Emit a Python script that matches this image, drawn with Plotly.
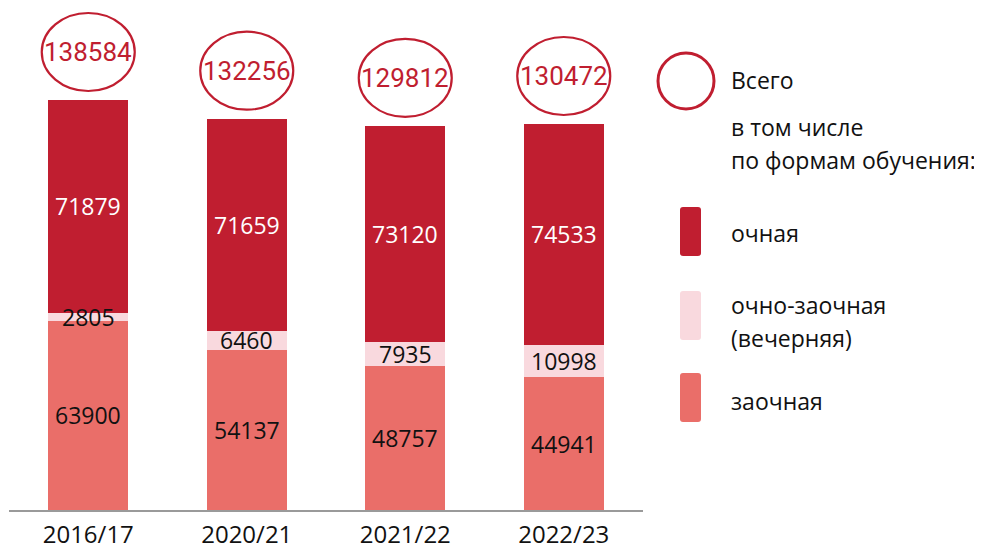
import plotly.graph_objects as go

categories = ["2016/17", "2020/21", "2021/22", "2022/23"]
ochnaya = [71879, 71659, 73120, 74533]
ochno_zaochnaya = [2805, 6460, 7935, 10998]
zaochnaya = [63900, 54137, 48757, 44941]
totals = [138584, 132256, 129812, 130472]

legend_labels = ["очная", "очно-заочная", "(вечерняя)", "заочная"]

C_DARK = "#C01E30"
C_PINK = "#F9D9DE"
C_SALMON = "#EA6E69"

# the page body has an 8px default margin: work in reference pixels, shift by OFF
OFF = 8
W, H = 982 - OFF, 549 - OFF
PLOT_X0, PLOT_X1 = 9 - OFF, 643 - OFF
PLOT_Y0, PLOT_Y1 = 10 - OFF, 510 - OFF
L, R, T, B = PLOT_X0, W - PLOT_X1, PLOT_Y0, H - PLOT_Y1
PW, PH = PLOT_X1 - PLOT_X0, PLOT_Y1 - PLOT_Y0
YMAX = 169000
px_per_unit = PH / YMAX

BODY_FONT = "Open Sans, Noto Sans, DejaVu Sans, sans-serif"
NUM_FONT = "Liberation Sans Narrow, Roboto, Liberation Sans, sans-serif"

fig = go.Figure()
series = [
    (zaochnaya, C_SALMON, "заочная"),
    (ochno_zaochnaya, C_PINK, "очно-заочная"),
    (ochnaya, C_DARK, "очная"),
]
for vals, col, name in series:
    fig.add_trace(go.Bar(
        x=categories, y=vals, name=name, marker=dict(color=col, line=dict(width=0)),
        width=0.505, hoverinfo="x+y+name", showlegend=False,
    ))

annotations = []
for i, cat in enumerate(categories):
    base = 0
    for vals, col, name in series:
        v = vals[i]
        annotations.append(dict(
            x=cat, y=base + v / 2, xref="x", yref="y", text=str(v), showarrow=False,
            font=dict(family=BODY_FONT, size=23, color="white" if col == C_DARK else "#111111"),
            xanchor="center", yanchor="middle",
        ))
        base += v

shapes = []
off = 48 / px_per_unit
hh = 39 / px_per_unit
hw = 46.5 / (PW / 4)
for i, tot in enumerate(totals):
    cy = tot + off
    shapes.append(dict(
        type="circle", xref="x", yref="y", x0=i - hw, x1=i + hw, y0=cy - hh, y1=cy + hh,
        line=dict(color=C_DARK, width=2.2), fillcolor="rgba(0,0,0,0)",
    ))
    annotations.append(dict(
        x=categories[i], y=cy, xref="x", yref="y", text=str(tot), showarrow=False,
        font=dict(family=NUM_FONT, size=26, color=C_DARK), xanchor="center", yanchor="middle",
    ))

def px(xp):
    return (xp - OFF - PLOT_X0) / PW

def py(yp):
    return (PLOT_Y1 - (yp - OFF)) / PH

shapes.append(dict(type="circle", xref="paper", yref="paper",
                   x0=px(658), x1=px(714), y0=py(109), y1=py(53),
                   line=dict(color=C_DARK, width=3), fillcolor="rgba(0,0,0,0)"))

def rrect(x0, y0, x1, y1, r=3):
    X, Y = px, py
    return (f"M {X(x0+r)},{Y(y0)} L {X(x1-r)},{Y(y0)} Q {X(x1)},{Y(y0)} {X(x1)},{Y(y0+r)} "
            f"L {X(x1)},{Y(y1-r)} Q {X(x1)},{Y(y1)} {X(x1-r)},{Y(y1)} "
            f"L {X(x0+r)},{Y(y1)} Q {X(x0)},{Y(y1)} {X(x0)},{Y(y1-r)} "
            f"L {X(x0)},{Y(y0+r)} Q {X(x0)},{Y(y0)} {X(x0+r)},{Y(y0)} Z")

for (y0, y1), col in zip([(207, 256), (291, 340), (373, 422)], [C_DARK, C_PINK, C_SALMON]):
    shapes.append(dict(type="path", xref="paper", yref="paper", path=rrect(680, y0, 701, y1),
                       fillcolor=col, line=dict(width=0)))

def ltext(text, yp):
    annotations.append(dict(x=px(729), y=py(yp), xref="paper", yref="paper", text=text,
                            showarrow=False, xanchor="left", yanchor="middle",
                            font=dict(family=BODY_FONT, size=23, color="#111111")))

ltext("Всего", 80)
ltext("в том числе", 127)
ltext("по формам обучения:", 160)
ltext(legend_labels[0], 233)
ltext(legend_labels[1], 305)
ltext(legend_labels[2], 338)
ltext(legend_labels[3], 401)

fig.update_layout(
    barmode="stack",
    width=W, height=H,
    margin=dict(l=L, r=R, t=T, b=B, pad=0, autoexpand=False),
    paper_bgcolor="white", plot_bgcolor="white",
    showlegend=False,
    xaxis=dict(type="category", range=[-0.5, 3.5], showgrid=False, zeroline=False,
               showline=True, linecolor="#9a9a9a", linewidth=1.5, ticks="",
               ticklabelstandoff=2,
               tickfont=dict(family=BODY_FONT, size=24, color="#111111")),
    yaxis=dict(range=[0, YMAX], visible=False, showgrid=False, zeroline=False),
    shapes=shapes, annotations=annotations,
)

fig.write_html("out.html")
